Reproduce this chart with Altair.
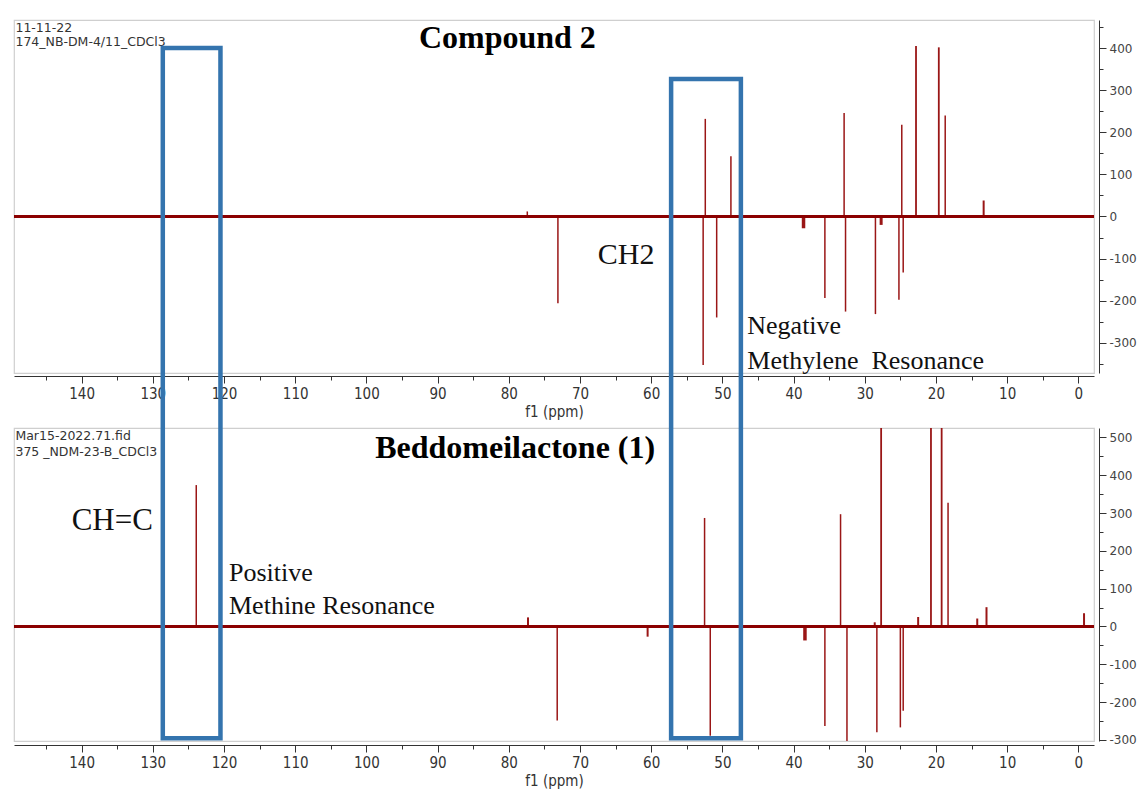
import altair as alt
import pandas as pd

# ---------------- data ----------------
X_DOMAIN = [149.5, -2.2]
X_TICKS = [145, 140, 135, 130, 125, 120, 115, 110, 105, 100, 95, 90, 85, 80, 75,
           70, 65, 60, 55, 50, 45, 40, 35, 30, 25, 20, 15, 10, 5, 0]

TOP_Y_DOMAIN = [-372, 467]
TOP_Y_TICKS = [-350, -300, -250, -200, -150, -100, -50, 0, 50, 100, 150, 200,
               250, 300, 350, 400, 450]
BOT_Y_DOMAIN = [-303, 525]
BOT_Y_TICKS = [-300, -250, -200, -150, -100, -50, 0, 50, 100, 150, 200, 250,
               300, 350, 400, 450, 500]

# Compound 2 (top spectrum): peak positions (ppm) and intensities
top_ppm = [77.4, 73.1, 52.7, 52.4, 50.8, 48.8, 38.6, 35.6, 32.9, 32.7, 28.5,
           27.7, 25.2, 24.8, 24.6, 22.8, 19.6, 18.7, 13.3]
top_int = [12, -206, -353, 232, -240, 143, -28, -194, 246, -226, -232,
           -20, -198, 218, -133, 405, 402, 240, 38]
top_w = [1.5, 1.5, 1.5, 1.5, 1.5, 1.5, 3.5, 1.5, 1.5, 1.5, 1.5,
         3, 1.5, 1.5, 1.5, 1.8, 1.8, 1.5, 2]

# Beddomeilactone (1) (bottom spectrum)
bot_ppm = [123.9, 77.3, 73.2, 60.5, 52.5, 51.7, 38.4, 35.6, 33.4, 32.5, 28.6,
           28.3, 27.7, 25.0, 24.6, 22.5, 20.7, 19.2, 18.3, 14.2, 12.9, -0.8]
bot_int = [374, 24, -249, -27, 287, -289, -37, -263, 297, -320, 11,
           -280, 600, -267, -223, 25, 600, 600, 327, 21, 51, 35]
bot_w = [1.5, 2, 1.5, 2, 1.5, 1.5, 3.5, 1.5, 1.5, 1.5, 2,
         1.5, 1.8, 1.5, 1.5, 2, 1.8, 1.8, 1.5, 2, 2, 2]

# highlight boxes (ppm range, intensity range in the bottom panel's scale)
box_x1 = [128.6, 57.2]
box_x2 = [120.5, 47.4]
box_y1 = [1530, 1448]
box_y2 = [-296, -296]

# annotations
top_small_txt = ["11-11-22", "174_NB-DM-4/11_CDCl3"]
top_small_x = [149.3, 149.3]
top_small_y = [448, 415]
top_big_txt = ["CH2", "Negative", "Methylene\u00a0 Resonance"]
top_big_x = [67.5, 46.5, 46.5]
top_big_y = [-91, -260, -343]
top_big_size = [30, 26, 26]
top_title = "Compound 2"
top_title_x = 80.2
top_title_y = 424

bot_small_txt = ["Mar15-2022.71.fid", "375 _NDM-23-B_CDCl3"]
bot_small_x = [149.3, 149.3]
bot_small_y = [504, 462]
bot_big_txt = ["CH=C", "Positive", "Methine Resonance"]
bot_big_x = [141.4, 119.3, 119.3]
bot_big_y = [279, 142, 54]
bot_big_size = [31, 26, 26]
bot_title = "Beddomeilactone (1)"
bot_title_x = 79.1
bot_title_y = 472

# ---------------- styling ----------------
RED = "#9a1616"
BASE = "#8b0000"
BLUE = "#3474ae"
AX = "#333333"
NARROW = "Liberation Sans Narrow, DejaVu Sans Condensed, Arial Narrow, sans-serif"
SERIF = "Liberation Serif, Times New Roman, serif"
SMALL = "DejaVu Sans, Verdana, sans-serif"

W = 1080


def xs():
    return alt.Scale(domain=X_DOMAIN, nice=False, zero=False)


def ys(dom):
    return alt.Scale(domain=dom, nice=False, zero=False)


def make_x_axis(offset):
    return alt.Axis(
        values=X_TICKS, tickCount=500,
        labelExpr="datum.value % 10 === 0 ? datum.label : ''",
        tickSize={"condition": {"test": "datum.value % 10 === 0", "value": 7}, "value": 4},
        format="d", title="f1 (ppm)", grid=False,
        domainColor=AX, tickColor=AX, labelFont=NARROW, labelFontSize=15,
        labelColor=AX, labelFlush=False, labelOverlap=False, labelPadding=3,
        titleFont=NARROW, titleFontSize=15, titleFontWeight="normal",
        titleColor=AX, titlePadding=3, offset=offset,
    )


def make_y_axis(ticks):
    return alt.Axis(
        orient="right", values=ticks, tickCount=500,
        labelExpr="datum.value % 100 === 0 ? '' + datum.value : ''",
        tickSize={"condition": {"test": "datum.value % 100 === 0", "value": 7}, "value": 4},
        title=None, grid=False, domainColor=AX, tickColor=AX, labelFont=SMALL,
        labelFontSize=12, labelColor="#444444", labelFlush=False,
        labelOverlap=False, labelPadding=3, offset=5,
    )


def panel(ppm, inten, widths, ydom, yticks, h, small_txt, small_x, small_y,
          big_txt, big_x, big_y, big_size, title, tx, ty, axis_offset, boxes=False):
    xa = make_x_axis(axis_offset)
    ya = make_y_axis(yticks)

    def X(f):
        return alt.X(f, type="quantitative", scale=xs(), axis=xa)

    def Y(f):
        return alt.Y(f, type="quantitative", scale=ys(ydom), axis=ya)

    peaks = pd.DataFrame({"ppm": ppm, "I": inten, "w": widths, "z": [0] * len(ppm)})
    base = alt.Chart(peaks)
    rules = base.mark_rule(color=RED, clip=True).encode(
        x=X("ppm"), y=Y("z"), y2="I:Q",
        strokeWidth=alt.StrokeWidth("w:Q", scale=None, legend=None),
    )
    baseline = base.mark_rule(color=BASE, strokeWidth=3, clip=True).encode(y=Y("z"))

    sm = pd.DataFrame({"t": small_txt, "x": small_x, "y": small_y})
    small = alt.Chart(sm).mark_text(
        align="left", baseline="middle", font=SMALL, fontSize=12.5, color="#333333"
    ).encode(x=X("x"), y=Y("y"), text="t:N")
    bg = pd.DataFrame({"t": big_txt, "x": big_x, "y": big_y, "s": big_size})
    big = alt.Chart(bg).mark_text(
        align="left", baseline="middle", font=SERIF, color="#111111"
    ).encode(x=X("x"), y=Y("y"), text="t:N",
             size=alt.Size("s:Q", scale=None, legend=None))
    tt = pd.DataFrame({"t": [title], "x": [tx], "y": [ty]})
    ttl = alt.Chart(tt).mark_text(
        align="center", baseline="middle", font=SERIF, fontSize=32,
        fontWeight="bold", color="#000000"
    ).encode(x=X("x"), y=Y("y"), text="t:N")
    layers = [rules, baseline, small, big, ttl]
    if boxes:
        bx = pd.DataFrame({"x1": box_x1, "x2": box_x2, "y1": box_y1, "y2": box_y2})
        rect = alt.Chart(bx).mark_rect(
            filled=False, stroke=BLUE, strokeWidth=4.5, clip=False
        ).encode(x=X("x1"), x2="x2:Q", y=Y("y1"), y2="y2:Q")
        layers.append(rect)
    return alt.layer(*layers).properties(width=W, height=h)


top = panel(top_ppm, top_int, top_w, TOP_Y_DOMAIN, TOP_Y_TICKS, 353,
            top_small_txt, top_small_x, top_small_y,
            top_big_txt, top_big_x, top_big_y, top_big_size,
            top_title, top_title_x, top_title_y, 3)
bottom = panel(bot_ppm, bot_int, bot_w, BOT_Y_DOMAIN, BOT_Y_TICKS, 313,
               bot_small_txt, bot_small_x, bot_small_y,
               bot_big_txt, bot_big_x, bot_big_y, bot_big_size,
               bot_title, bot_title_x, bot_title_y, 4, boxes=True)

chart = alt.vconcat(top, bottom, spacing=55, bounds="flush").properties(
    padding={"left": 13, "top": 19, "right": 5, "bottom": 2},
    background="white",
).configure_view(stroke="#cfcfcf", strokeWidth=1.2).configure_axis(
    labelOverlap=False
).resolve_scale(x="independent", y="independent")

chart.save("out.html", embed_options={"renderer": "svg", "actions": False})
